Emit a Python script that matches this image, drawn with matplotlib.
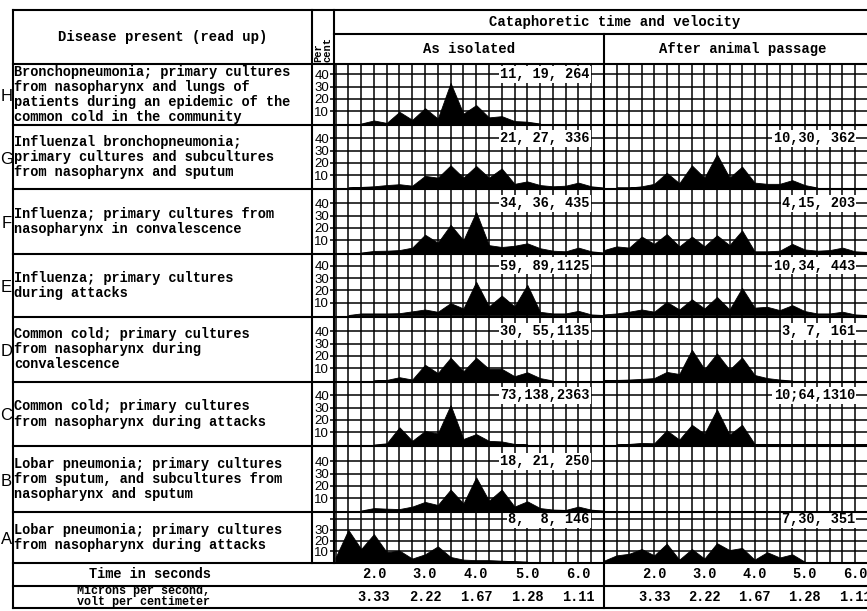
import numpy as np
import matplotlib
matplotlib.use('Agg')
import matplotlib.pyplot as plt
from matplotlib.transforms import blended_transform_factory

plt.rcParams['font.family'] = ['Liberation Mono', 'DejaVu Sans Mono']
plt.rcParams['font.weight'] = 'bold'

# ---- data ----
row_letters = ['H', 'G', 'F', 'E', 'D', 'C', 'B', 'A']
descriptions = [
    'Bronchopneumonia; primary cultures\nfrom nasopharynx and lungs of\n'
    'patients during an epidemic of the\ncommon cold in the community',
    'Influenzal bronchopneumonia;\nprimary cultures and subcultures\nfrom nasopharynx and sputum',
    'Influenza; primary cultures from\nnasopharynx in convalescence',
    'Influenza; primary cultures\nduring attacks',
    'Common cold; primary cultures\nfrom nasopharynx during\nconvalescence',
    'Common cold; primary cultures\nfrom nasopharynx during attacks',
    'Lobar pneumonia; primary cultures\nfrom sputum, and subcultures from\nnasopharynx and sputum',
    'Lobar pneumonia; primary cultures\nfrom nasopharynx during attacks',
]

# per cent of strains, sampled every 0.25 s starting at the given time
iso_start = [1.75, 1.5, 1.75, 1.5, 2.0, 2.0, 1.75, 1.25]
iso_H = [0, 2.5, 0.5, 9.5, 3, 12.5, 4, 33, 8, 15, 5, 6, 2, 1.5, 0]
iso_G = [0, 0.5, 1, 2, 2.7, 1.5, 9.5, 8, 18, 8, 17.5, 8, 15.5, 3, 5, 2, 1, 1.5, 4, 1, 0]
iso_F = [0, 1.3, 1.5, 2, 4, 14.5, 8, 22.5, 10, 33, 6, 4.5, 5.5, 7.5, 3.5, 1.5, 1, 4, 1, 0]
iso_E = [0, 1.3, 1.3, 1.3, 1.5, 3, 4.5, 2.6, 9.7, 5.3, 27, 7, 15.8, 7, 24.5, 2.6, 1.3, 1.3, 3.4, 0.5, 0]
iso_D = [0, 0.5, 2.7, 0.8, 12.8, 6, 18.5, 7.5, 18.5, 9.5, 9.5, 3.5, 6.7, 2, 0]
iso_C = [0, 1, 14, 3, 11, 9, 32, 4.5, 8.5, 3, 2.5, 0.5, 0]
iso_B = [0, 2, 1.5, 1.2, 3.2, 7, 4.5, 17, 5.7, 27, 8, 17, 3.2, 7.5, 2, 0.8, 0.5, 3.2, 0.7, 0]
iso_A = [4, 30, 12, 26, 9, 10.5, 3, 7, 14.5, 4.5, 2, 1.5, 1.5, 1, 0.5, 0]

pas_start = [None, 1.25, 1.0, 1.0, 1.0, 1.25, None, 1.0]
pas_H = []
pas_G = [0, 0, 1, 3, 12, 3.5, 18, 8, 27, 8, 17, 4, 3, 3, 6, 2, 0]
pas_F = [2, 5, 4, 13, 7, 15, 5, 13, 5, 14, 6, 18, 1, 1, 1.5, 7, 2.5, 1.5, 2, 4, 1, 0.5]
pas_E = [0.5, 1.3, 2.7, 4.5, 2.7, 10.7, 4.5, 12.8, 5.3, 14.7, 4.5, 22, 6, 6.7, 4, 8, 3.2, 1.3, 1.3, 2.7, 0.5, 0]
pas_D = [0.5, 0.5, 0.8, 1.3, 2, 7, 5.3, 25, 9.3, 22, 8.8, 18.7, 4.5, 2, 0.8, 0]
pas_C = [0, 0.5, 1.3, 1, 11.5, 4, 16, 8.8, 28.5, 8, 16, 0.5, 0.5, 0.5, 0.5, 0.5, 0.5, 0.5, 0.5, 0.5, 0.3]
pas_B = []
pas_A = [1, 6, 7.5, 12, 6, 17, 2, 12, 3, 17.5, 11, 13, 2, 9, 4, 7, 0]

iso_labels = ['11, 19, 264', '21, 27, 336', '34, 36, 435', '59, 89,1125',
              '30, 55,1135', '73,138,2363', '18, 21, 250', '8,  8, 146']
pas_labels = ['', '10,30, 362', '4,15, 203', '10,34, 443',
              '3, 7, 161', '10;64,1310', '', '7,30, 351']

time_ticks = [2.0, 3.0, 4.0, 5.0, 6.0]
time_labels = ['2.0', '3.0', '4.0', '5.0', '6.0']
micron_labels = ['3.33', '2.22', '1.67', '1.28', '1.11']

iso_series = [iso_H, iso_G, iso_F, iso_E, iso_D, iso_C, iso_B, iso_A]
pas_series = [pas_H, pas_G, pas_F, pas_E, pas_D, pas_C, pas_B, pas_A]

# ---- layout (pixels) ----
W, H = 867, 611
X_LEFT, X_PCT, X_ISO, X_MID, X_RIGHT = 12.5, 312, 334, 604, 881
Y_TOP, Y_HEAD1, Y_HEAD2 = 10, 34, 64
row_edges = [64, 125, 189, 254, 316.5, 382, 446, 512, 563]
Y_TIME, Y_BOTTOM = 586, 608
ISO_XLIM = (1.22, 6.5)
PAS_XLIM = (1.0, 1.0 + (X_RIGHT - X_MID) / 50.2)

fig = plt.figure(figsize=(W / 100, H / 100), dpi=100)


def px_axes(x0, y0, x1, y1):
    return fig.add_axes([x0 / W, 1 - y1 / H, (x1 - x0) / W, (y1 - y0) / H])


GRID_LW = 1.1
mono = dict(family=['Liberation Mono', 'DejaVu Sans Mono'], weight='bold')

panels = []
for i, letter in enumerate(row_letters):
    y0, y1 = row_edges[i], row_edges[i + 1]
    scale = 1.06 if letter == 'A' else 1.23
    ylim = (-1.2, -1.2 + (y1 - y0) / scale)
    for side in ('iso', 'pas'):
        if side == 'iso':
            ax = px_axes(X_ISO, y0, X_MID, y1)
            ax.set_xlim(*ISO_XLIM)
            vals, start, lab = iso_series[i], iso_start[i], iso_labels[i]
            lab_x = 6.22
        else:
            ax = px_axes(X_MID, y0, X_RIGHT, y1)
            ax.set_xlim(*PAS_XLIM)
            vals, start, lab = pas_series[i], pas_start[i], pas_labels[i]
            lab_x = 6.0
        ax.set_ylim(*ylim)
        ax.set_facecolor('none')
        ax.set_xticks(np.arange(1.25, 6.51, 0.25))
        ax.set_yticks([10, 20, 30, 40])
        ax.grid(True, color='black', lw=GRID_LW)
        ax.set_axisbelow(True)
        for s in ax.spines.values():
            s.set_visible(False)
        ax.tick_params(axis='x', length=0, labelbottom=False)
        if side == 'iso':
            ylabels = ['10', '20', '30', '' if letter == 'A' else '40']
            ax.set_yticklabels(ylabels, family='Liberation Sans', weight='normal')
            ax.tick_params(axis='y', length=3, width=GRID_LW, pad=0.5,
                           labelsize=9.5, direction='out')
        else:
            ax.tick_params(axis='y', length=0, labelleft=False)
        if vals:
            t = start + 0.25 * np.arange(len(vals))
            ax.fill_between(t, vals, 0, color='black', lw=0.6, zorder=3)
        if lab:
            ax.text(lab_x, 40, lab, ha='right', va='center', fontsize=9.8,
                    bbox=dict(fc='white', ec='none', pad=1.0), zorder=4, **mono)
        panels.append(ax)

# ---- table frame and text ----
frame = fig.add_axes([0, 0, 1, 1])
frame.set_xlim(0, W)
frame.set_ylim(H, 0)
frame.axis('off')
frame.set_zorder(5)
frame.patch.set_visible(False)

BORDER = dict(color='black', lw=1.5)
for y in [Y_TOP, Y_HEAD2] + row_edges[1:] + [Y_TIME, Y_BOTTOM]:
    frame.plot([X_LEFT, W], [y, y], **BORDER)
frame.plot([X_ISO, W], [Y_HEAD1, Y_HEAD1], **BORDER)
frame.plot([X_LEFT, X_LEFT], [Y_TOP, Y_BOTTOM], **BORDER)
frame.plot([X_PCT, X_PCT], [Y_TOP, row_edges[-1]], **BORDER)
frame.plot([X_ISO, X_ISO], [Y_TOP, row_edges[-1]], **BORDER)
frame.plot([X_MID, X_MID], [Y_HEAD1, Y_BOTTOM], **BORDER)

frame.text((X_LEFT + X_PCT) / 2, (Y_TOP + Y_HEAD2) / 2, 'Disease present (read up)',
           ha='center', va='center', fontsize=10, **mono)
frame.text(323, 62, 'Per\ncent', rotation=90, ha='center', va='bottom',
           multialignment='left', fontsize=7.5, linespacing=0.85, **mono)
frame.text(615, (Y_TOP + Y_HEAD1) / 2, 'Cataphoretic time and velocity',
           ha='center', va='center', fontsize=10, **mono)
frame.text((X_ISO + X_MID) / 2, (Y_HEAD1 + Y_HEAD2) / 2, 'As isolated',
           ha='center', va='center', fontsize=10, **mono)
frame.text((X_MID + X_RIGHT) / 2, (Y_HEAD1 + Y_HEAD2) / 2, 'After animal passage',
           ha='center', va='center', fontsize=10, **mono)

for i, letter in enumerate(row_letters):
    yc = (row_edges[i] + row_edges[i + 1]) / 2
    frame.text(14, yc, descriptions[i], ha='left', va='center', fontsize=9.8,
               linespacing=1.1, **mono)
    frame.text(6.5, yc + 2, letter, ha='center', va='center', fontsize=12,
               family='Liberation Sans', weight='normal')

frame.text(150, (row_edges[-1] + Y_TIME) / 2, 'Time in seconds',
           ha='center', va='center', fontsize=9.8, **mono)
frame.text(77, 591, 'Microns per second,', ha='left', va='center', fontsize=8.5, **mono)
frame.text(77, 602, 'volt per centimeter', ha='left', va='center', fontsize=8.5, **mono)

# time / velocity scale under each panel
for ax in panels[-2:]:
    tr = blended_transform_factory(ax.transData, fig.transFigure)
    for tk, tl, ml in zip(time_ticks, time_labels, micron_labels):
        ax.text(tk, 1 - (row_edges[-1] + Y_TIME) / 2 / H, tl, transform=tr,
                ha='center', va='center', fontsize=9.8, clip_on=False, **mono)
        ax.text(tk, 1 - (Y_TIME + Y_BOTTOM) / 2 / H, ml, transform=tr,
                ha='center', va='center', fontsize=9.8, clip_on=False, **mono)

fig.savefig('out.png', dpi=100)
